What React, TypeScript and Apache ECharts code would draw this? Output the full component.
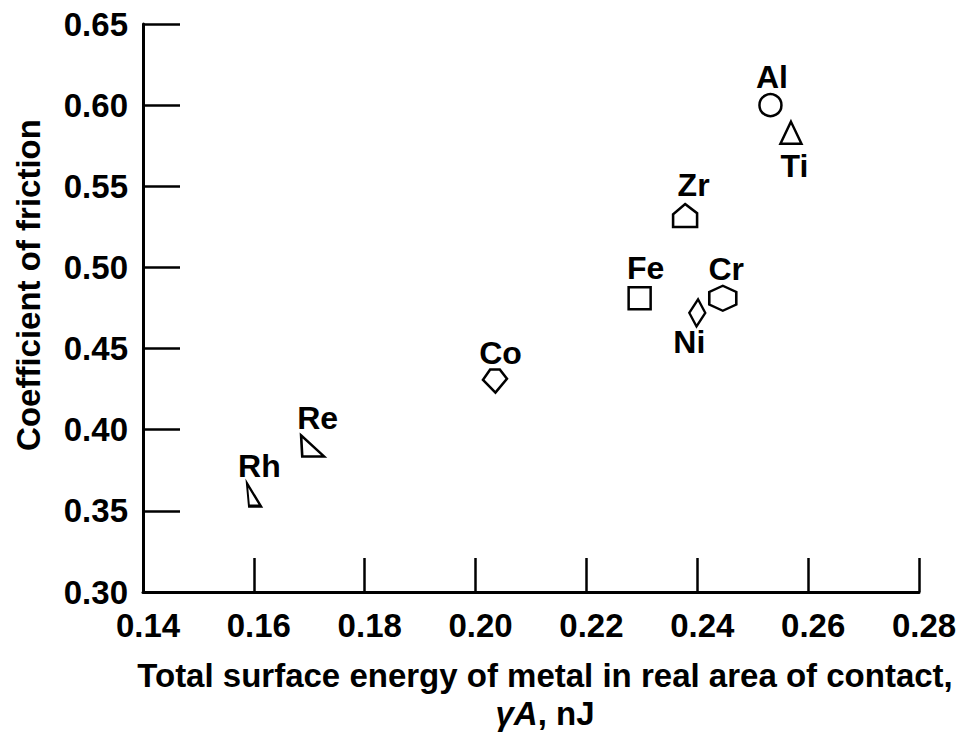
import React, { useEffect, useRef } from "react";
import * as echarts from "echarts";

// ---- Data ----
const elements = ["Rh", "Re", "Co", "Fe", "Zr", "Ni", "Cr", "Al", "Ti"];
const surfaceEnergy = [0.16, 0.1706, 0.2035, 0.2296, 0.2378, 0.24, 0.2446, 0.2532, 0.2569];
const frictionCoeff = [0.36, 0.39, 0.43, 0.481, 0.532, 0.472, 0.481, 0.6, 0.583];
const xTickValues = [0.14, 0.16, 0.18, 0.2, 0.22, 0.24, 0.26, 0.28];
const yTickValues = [0.3, 0.35, 0.4, 0.45, 0.5, 0.55, 0.6, 0.65];

// ---- Styling (marker shapes & label placement) ----
const FONT = "'Liberation Sans', Arial, Helvetica, sans-serif";
const markerStyle: Record<string, { symbol: string; size: number | number[] }> = {
  Rh: { symbol: "path://M0 0 L10 10 L1.5 10 Z", size: [14, 23] },
  Re: { symbol: "path://M0 0 L10 10 L0.5 10 Z", size: [23, 21] },
  Co: { symbol: "path://M3 0 L7 0 L10 4 L5.2 10 L0 4.5 Z", size: [24, 23] },
  Fe: { symbol: "rect", size: [22, 22] },
  Zr: { symbol: "path://M5 0 L10 4 L10 10 L0 10 L0 4.5 Z", size: [24, 23] },
  Ni: { symbol: "path://M5.5 0 L10 5 L4.5 10 L0 5 Z", size: [16, 27] },
  Cr: { symbol: "path://M5 0 L10 2.5 L10 7.5 L5 10 L0 7.5 L0 2.5 Z", size: [27, 25] },
  Al: { symbol: "circle", size: 22 },
  Ti: { symbol: "triangle", size: [21, 22] },
};
const labelOffset: Record<string, number[]> = {
  Rh: [5.5, -28.5],
  Re: [5, -27.5],
  Co: [5.5, -28],
  Fe: [6, -30.5],
  Zr: [8.5, -30],
  Ni: [-8, 29],
  Cr: [3.5, -29.5],
  Al: [1.5, -28.5],
  Ti: [3.5, 33.5],
};

export default function App() {
  const ref = useRef<HTMLDivElement>(null);

  useEffect(() => {
    if (!ref.current) return;
    const chart = echarts.init(ref.current, null, { renderer: "svg" });

    const data = elements.map((name, i) => ({
      name,
      value: [surfaceEnergy[i], frictionCoeff[i]],
      symbol: markerStyle[name].symbol,
      symbolSize: markerStyle[name].size,
      label: { offset: labelOffset[name] },
    }));

    const xMin = xTickValues[0];
    const xMax = xTickValues[xTickValues.length - 1];
    const yMin = yTickValues[0];
    const yMax = yTickValues[yTickValues.length - 1];

    chart.setOption({
      animation: false,
      backgroundColor: "#fff",
      textStyle: { fontFamily: FONT },
      grid: { left: 143, right: 44, top: 24, bottom: 146, containLabel: false },
      xAxis: {
        type: "value",
        min: xMin,
        max: xMax,
        interval: 0.02,
        splitLine: { show: false },
        axisLine: { lineStyle: { color: "#000", width: 3 } },
        axisTick: { inside: true, length: 34, lineStyle: { color: "#000", width: 2.5 } },
        axisLabel: {
          formatter: (v: number) => v.toFixed(2),
          fontSize: 33,
          lineHeight: 33,
          fontWeight: "bold",
          color: "#000",
          fontFamily: FONT,
          margin: 17,
          padding: [0, 0, 0, 10],
        },
        name:
          "{t|Total surface energy of metal in real area of contact,}\n{i|γA}{t|, nJ}",
        nameLocation: "middle",
        nameGap: 64,
        nameTextStyle: {
          padding: [0, 0, 0, 28],
          lineHeight: 38,
          rich: {
            t: { fontSize: 33, fontWeight: "bold", color: "#000", fontFamily: FONT, lineHeight: 38 },
            i: {
              fontSize: 33,
              fontWeight: "bold",
              fontStyle: "italic",
              color: "#000",
              fontFamily: FONT,
              lineHeight: 38,
            },
          },
        },
      },
      yAxis: {
        type: "value",
        min: yMin,
        max: yMax,
        interval: 0.05,
        splitLine: { show: false },
        axisLine: { lineStyle: { color: "#000", width: 3 } },
        axisTick: { inside: true, length: 37, lineStyle: { color: "#000", width: 2.5 } },
        axisLabel: {
          formatter: (v: number) => v.toFixed(2),
          fontSize: 33,
          lineHeight: 33,
          fontWeight: "bold",
          color: "#000",
          fontFamily: FONT,
          margin: 15,
        },
        name: "Coefficient of friction",
        nameLocation: "middle",
        nameGap: 98,
        nameTextStyle: {
          fontSize: 33,
          lineHeight: 33,
          fontWeight: "bold",
          color: "#000",
          fontFamily: FONT,
          padding: [0, 0, 0, 46],
        },
      },
      series: [
        {
          type: "scatter",
          data,
          itemStyle: { color: "#fff", borderColor: "#000", borderWidth: 2.5, opacity: 1 },
          label: {
            show: true,
            position: "inside",
            formatter: "{b}",
            fontSize: 32,
            lineHeight: 32,
            fontWeight: "bold",
            color: "#000",
            fontFamily: FONT,
          },
          emphasis: { disabled: true },
        },
      ],
    });

    return () => chart.dispose();
  }, []);

  return (
    <div
      ref={ref}
      style={{ position: "fixed", left: 0, top: 0, width: 963, height: 738, background: "#fff" }}
    />
  );
}
